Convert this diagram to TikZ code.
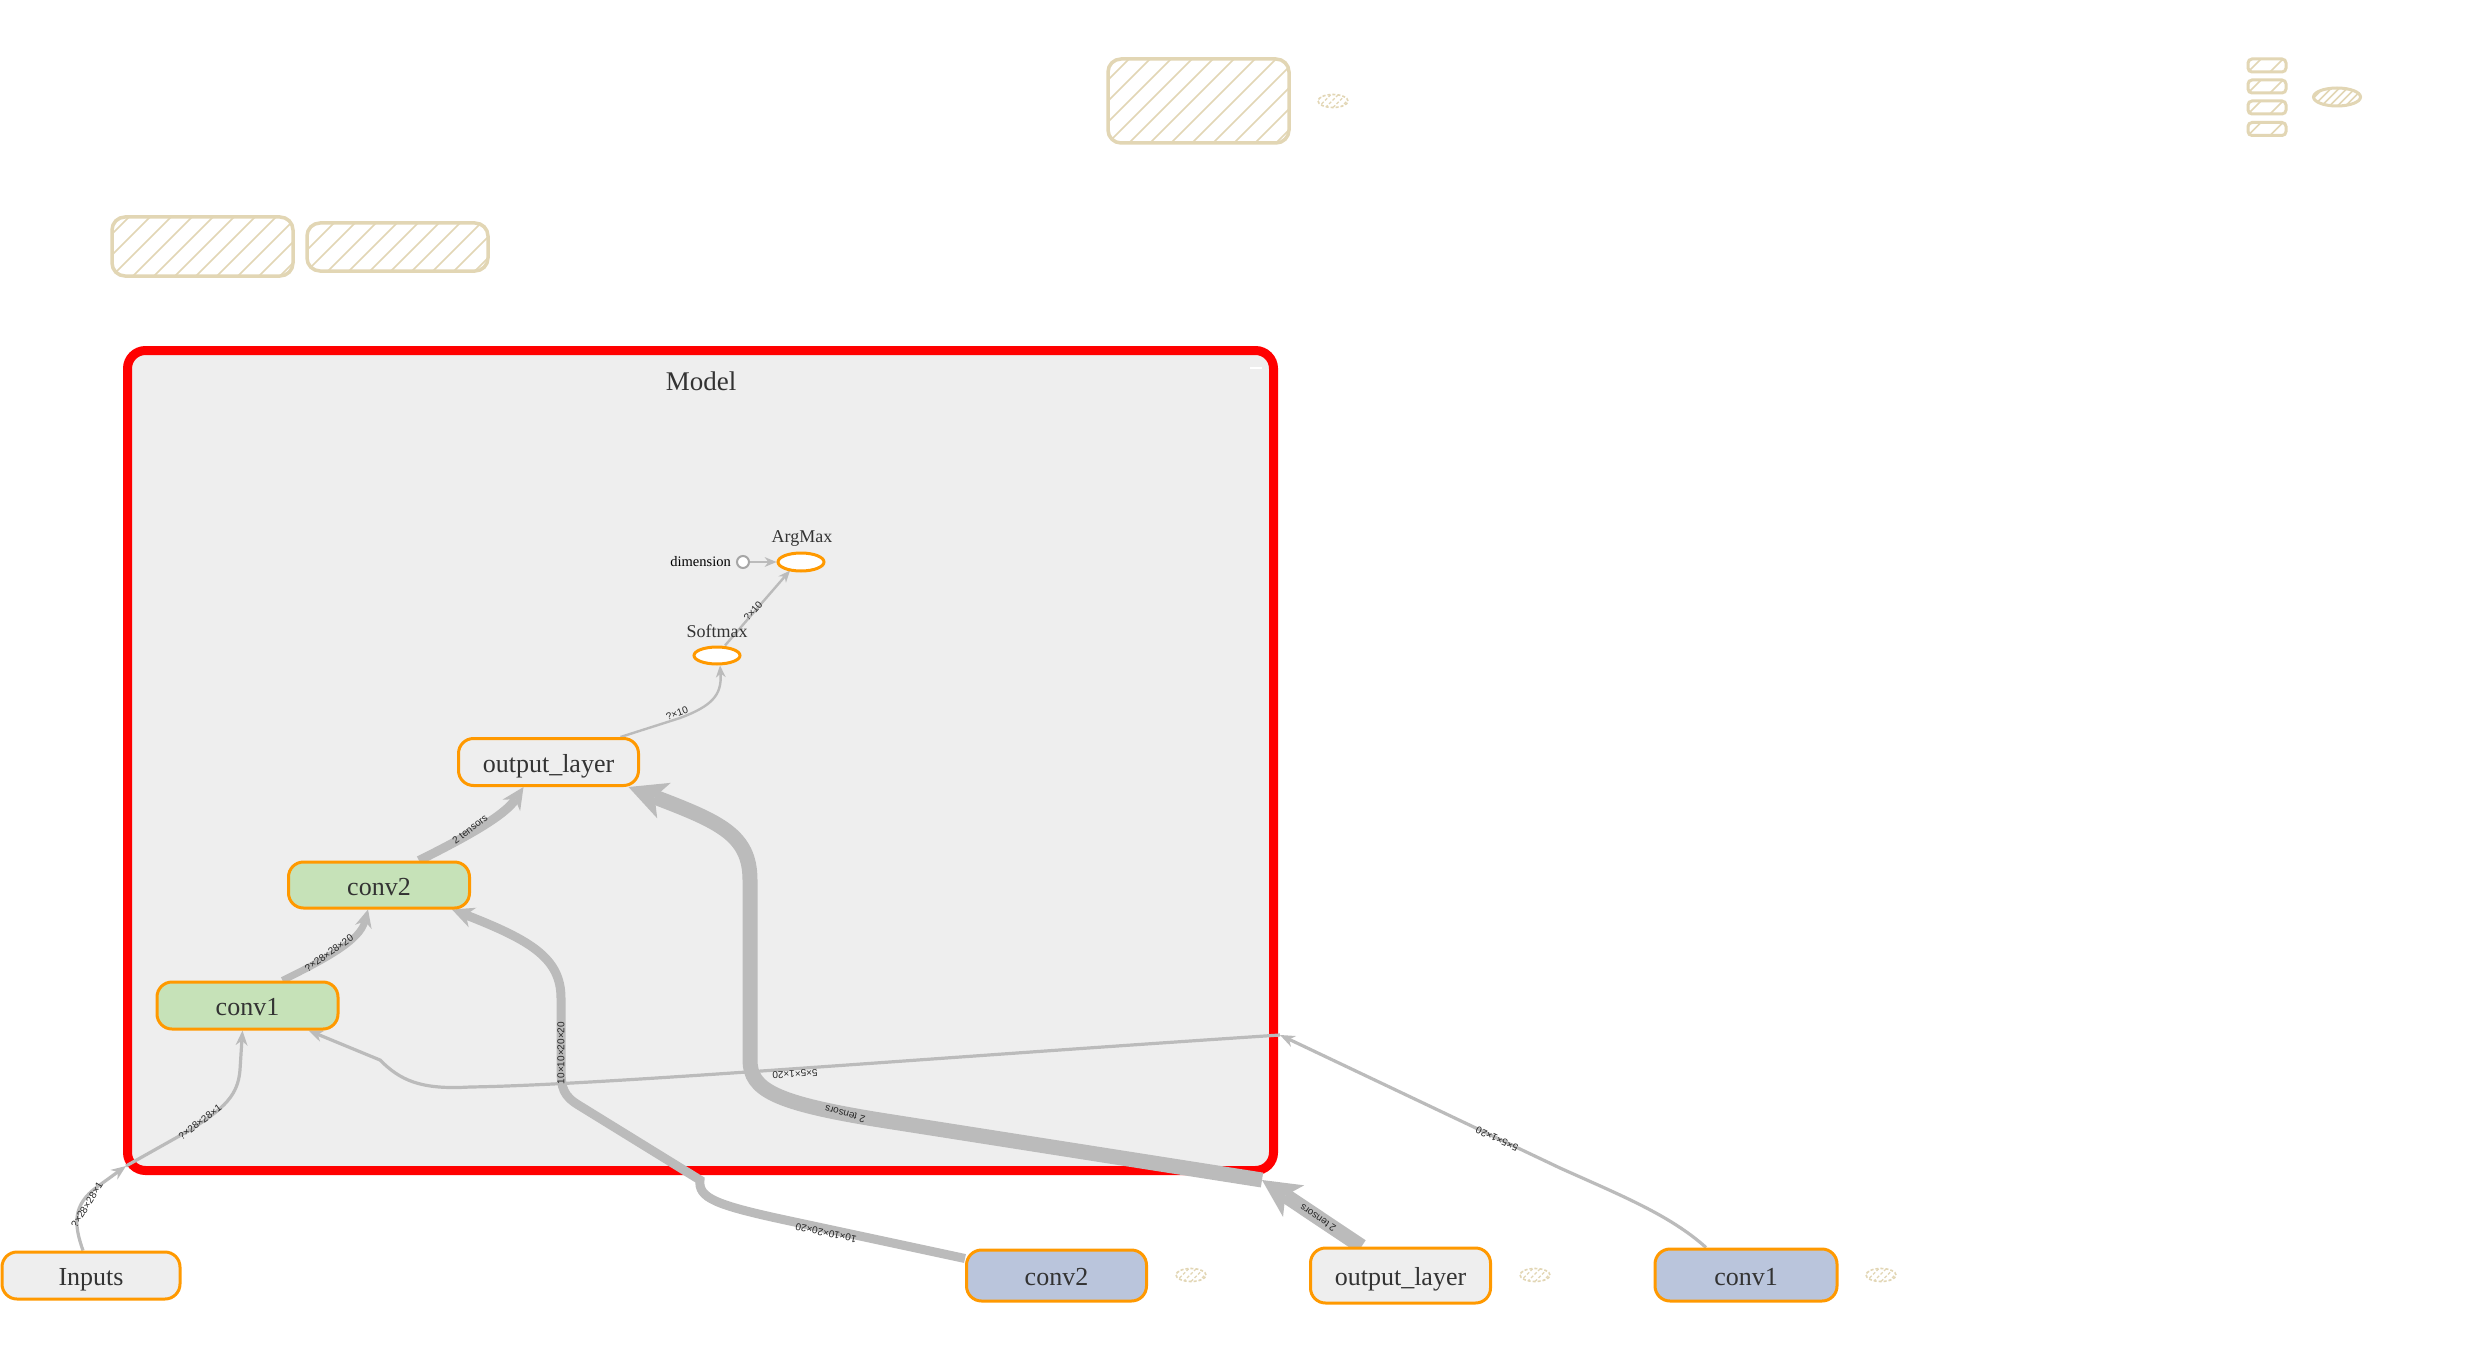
\documentclass[tikz,border=0pt]{standalone}
\usepackage{fontspec}
\setmainfont{Liberation Serif}
\newfontfamily\lsans{Liberation Sans}
\usetikzlibrary{arrows.meta,shapes.geometric}
\definecolor{edgec}{HTML}{BBBBBB}
\definecolor{modelbg}{HTML}{EEEEEE}
\definecolor{orangec}{HTML}{FF9900}
\definecolor{greenc}{HTML}{C6E2B8}
\definecolor{bluec}{HTML}{BAC5DC}
\definecolor{tanc}{HTML}{E2D6B4}
\definecolor{txtc}{HTML}{333333}
\pgfdeclarelayer{boxlayer}
\pgfdeclarelayer{edgelayer}
\pgfsetlayers{boxlayer,edgelayer,main}
\begin{document}
\begin{tikzpicture}[x=1pt,y=-1pt,
  opnode/.style={draw=orangec, line width=3pt, rounded corners=15pt, text=txtc,
    font=\fontsize{26}{30}\selectfont, minimum width=180pt, minimum height=47pt,
    inner sep=0pt, text height=20pt, text depth=0pt},
  opell/.style={ellipse, draw=orangec, line width=3pt, fill=white, minimum width=46pt,
    minimum height=17pt, inner sep=0pt},
  lbl/.style={text=txtc, font=\fontsize{18}{21}\selectfont, inner sep=0pt},
  elab/.style={font=\lsans\fontsize{10}{12}\selectfont, text=black!85, inner sep=0pt},
  thinA/.style={draw=edgec, line width=3.2pt, -{Stealth[length=15pt,width=12pt,line width=0pt]}},
  thinB/.style={draw=edgec, line width=2.4pt, -{Stealth[length=12pt,width=10pt,line width=0pt]}},
  wideA/.style={draw=edgec, line width=7pt, -{Stealth[length=18pt,width=17pt,line width=0pt]}},
  wideB/.style={draw=edgec, line width=9pt, -{Stealth[length=22pt,width=21pt,line width=0pt]}},
  wideC/.style={draw=edgec, line width=15pt, -{Stealth[length=38pt,width=38pt,inset=10pt,line width=0pt]}},
  hatch/.style={path picture={\foreach \k in {-60,...,60}{\draw[tanc, line width=1.6pt]
     ([xshift=\k*#1]path picture bounding box.south west) -- ++(300pt,300pt);}}},
  hatchfine/.style={path picture={\foreach \k in {-8,...,8}{\draw[tanc, line width=1.2pt]
     ([xshift=\k*#1]path picture bounding box.south west) -- ++(40pt,40pt);}}},
  hatchbox/.style={draw=tanc, line width=3.5pt, rounded corners=13pt, inner sep=0pt},
  hatchsmall/.style={draw=tanc, line width=3pt, rounded corners=4pt, inner sep=0pt,
     minimum width=38pt, minimum height=13pt, hatch=22pt},
  dashell/.style={ellipse, draw=tanc, line width=1.6pt, dash pattern=on 3pt off 2pt,
     minimum width=30pt, minimum height=13pt, inner sep=0pt, hatchfine=7.5pt}
]
\useasboundingbox (0,0) rectangle (2481,1367);

% model box (bottom layer)
\begin{pgfonlayer}{boxlayer}
\fill[white] (0,0) rectangle (2481,1367);
\node[draw=red, line width=9pt, rounded corners=18pt, fill=modelbg, minimum width=1146pt,
  minimum height=820pt, inner sep=0pt] (model) at (700.5,760.5) {};
\draw[white, line width=2.5pt] (1250,368) -- (1262,368);
\end{pgfonlayer}
\node[text=txtc, font=\fontsize{27}{32}\selectfont, inner sep=0pt] (mtitle) at (701,381) {Model};

% auxiliary hatched placeholders
\node[hatchbox, hatch=21pt, minimum width=181pt, minimum height=84pt] (h1) at (1198.5,101) {};
\node[dashell] (h1e) at (1333,101) {};
\node[hatchbox, hatch=21pt, minimum width=181pt, minimum height=59pt] (h2) at (202.5,246.5) {};
\node[hatchbox, hatch=21pt, minimum width=181pt, minimum height=48pt] (h3) at (397.5,247) {};
\node[hatchsmall] (s1) at (2267,65.5) {};
\node[hatchsmall] (s2) at (2267,86.5) {};
\node[hatchsmall] (s3) at (2267,107.5) {};
\node[hatchsmall] (s4) at (2267,129) {};
\node[ellipse, draw=tanc, line width=3pt, minimum width=47pt, minimum height=18pt, inner sep=0pt, hatch=8pt] (se) at (2337,97) {};

% ports on the model border
\coordinate (pIn) at (126,1166);
\coordinate (pOl) at (1262,1180);
\coordinate (pC1) at (1280,1035);

% op nodes
\node[opnode, fill=modelbg] (ol) at (548.5,762) {output\_layer};
\node[opnode, fill=greenc, minimum width=181pt, minimum height=46pt] (c2) at (379,885) {conv2};
\node[opnode, fill=greenc, minimum width=181pt] (c1) at (247.5,1005.5) {conv1};
\node[opnode, fill=modelbg, minimum width=178pt] (inp) at (91,1275.5) {Inputs};
\node[opnode, fill=bluec, minimum height=51pt] (bc2) at (1056.5,1275.5) {conv2};
\node[opnode, fill=modelbg, minimum height=55pt] (bol) at (1400.5,1275.5) {output\_layer};
\node[opnode, fill=bluec, minimum width=182pt, minimum height=52pt] (bc1) at (1746,1275) {conv1};
\node[opell] (sm) at (717,655.5) {};
\node[opell, minimum height=18pt] (am) at (801,562) {};
\node[circle, draw=gray!70, line width=2pt, fill=white, minimum size=12pt, inner sep=0pt] (dim) at (743,562) {};

% small dashed placeholders beside bottom nodes
\node[dashell] (e2) at (1191,1275) {};
\node[dashell] (e3) at (1535,1275) {};
\node[dashell] (e4) at (1881,1275) {};

% edges (under the nodes)
\begin{pgfonlayer}{edgelayer}
\draw[thinA] ([xshift=-8pt]inp.north) .. controls (74,1225) and (72,1205) .. (97,1187) -- (pIn);
\draw[thinA] (pIn) -- (190,1130) .. controls (225,1108) and (238,1095) .. (240,1070) -- ([xshift=-5pt]c1.south);
\draw[wideA] ([xshift=35pt]c1.north) .. controls (330,957) and (360,940) .. ([xshift=-11pt]c2.south);
\draw[wideB] ([xshift=40pt]c2.north) .. controls (470,835) and (505,815) .. ([xshift=-25pt]ol.south);
\draw[thinB] ([xshift=72pt]ol.north) -- (680,718) .. controls (712,706) and (722,695) .. ([xshift=3pt]sm.south);
\draw[thinB] ([xshift=8pt]sm.north) -- ([xshift=-11pt,yshift=2pt]am.south);
\draw[thinB] (dim.east) -- (am.west);
\draw[wideB] ([yshift=17pt]bc2.west) -- (790,1221) .. controls (715,1205) and (698,1198) .. (700,1180)
   -- (580,1106) .. controls (563,1096) and (561,1088) .. (561,1068) -- (561,998)
   .. controls (561,958) and (530,940) .. ([xshift=73pt]c2.south);
\draw[wideC] ([xshift=-39pt]bol.north) -- (pOl);
\draw[wideC] (pOl) -- (880,1120) .. controls (775,1103) and (750,1090) .. (750,1060) -- (750,880)
   .. controls (750,835) and (720,822) .. ([xshift=80pt]ol.south);
\draw[thinA] ([xshift=-40pt]bc1.north) .. controls (1670,1215) and (1620,1195) .. (1560,1168) -- (pC1);
\draw[thinA] (pC1) .. controls (900,1060) and (600,1085) .. (470,1087)
   .. controls (420,1090) and (400,1080) .. (380,1060) -- ([xshift=61pt]c1.south);
\end{pgfonlayer}

% labels
\node[lbl] (smlab) at (717,631) {Softmax};
\node[lbl] (amlab) at (802,538) {ArgMax};
\node[anchor=east, font=\fontsize{14.5}{17}\selectfont, inner sep=0pt] (dimlab) at (731,562) {dimension};

\node[elab, rotate=58] (l1a) at (87,1205) {?×28×28×1};
\node[elab, rotate=37] (l1b) at (200,1122) {?×28×28×1};
\node[elab, rotate=35] (l2) at (329,953) {?×28×28×20};
\node[elab, rotate=37] (l3) at (470,829) {2 tensors};
\node[elab, rotate=20] (l4) at (677,713) {?×10};
\node[elab, rotate=48] (l5) at (753,611) {?×10};
\node[elab, rotate=90] (l7a) at (561,1053) {10×10×20×20};
\node[elab, rotate=168] (l7b) at (826,1233) {10×10×20×20};
\node[elab, rotate=146] (l8a) at (1318,1218) {2 tensors};
\node[elab, rotate=165] (l8b) at (845,1114) {2 tensors};
\node[elab, rotate=155] (l9a) at (1497,1139) {5×5×1×20};
\node[elab, rotate=183] (l9b) at (795,1074) {5×5×1×20};
\end{tikzpicture}
\end{document}
